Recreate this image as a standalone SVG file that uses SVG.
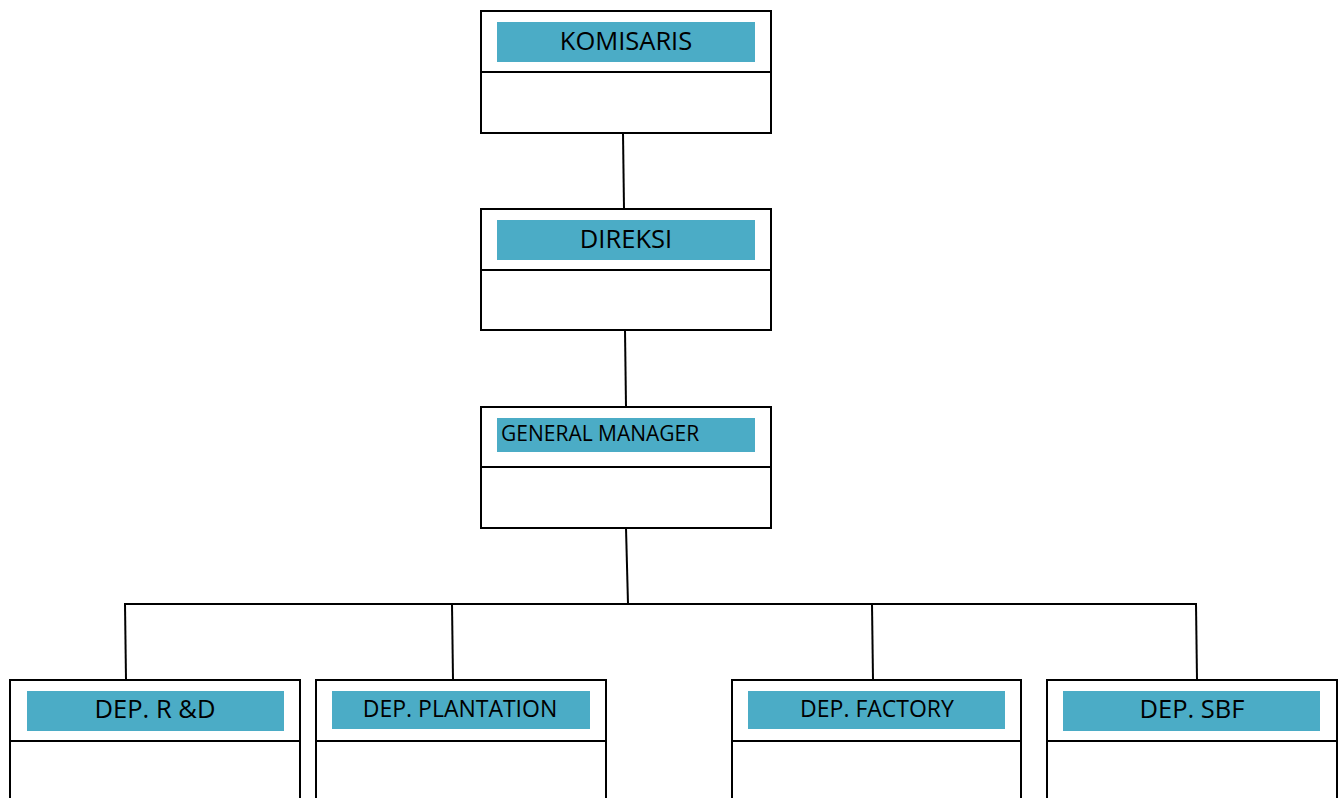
<svg xmlns="http://www.w3.org/2000/svg" width="1343" height="798" viewBox="0 0 1343 798">
<style>
.box{fill:#fff;stroke:#000;stroke-width:2}
.hdr{fill:#4BACC6}
.lbl{font-family:"Open Sans","Noto Sans","Liberation Sans",sans-serif;fill:#000;text-anchor:middle}
.conn line{stroke:#000;stroke-width:2}
</style>
<rect width="1343" height="798" fill="#fff"/>
<g class="conn" id="connectors">
<line x1="623" y1="133" x2="624" y2="209"/>
<line x1="625" y1="330" x2="626" y2="407"/>
<line x1="626" y1="528" x2="628" y2="604"/>
<line x1="124" y1="604" x2="1197" y2="604"/>
<line x1="125" y1="604" x2="126" y2="680"/>
<line x1="452" y1="604" x2="453" y2="680"/>
<line x1="872" y1="604" x2="873" y2="680"/>
<line x1="1196" y1="604" x2="1197" y2="680"/>
</g>
<g id="komisaris">
<rect class="box" x="481" y="11" width="290" height="122"/>
<line x1="481" y1="72" x2="771" y2="72" stroke="#000" stroke-width="2"/>
<rect class="hdr" x="497" y="22" width="258" height="40"/>
<text class="lbl" x="626" y="50" font-size="25.5">KOMISARIS</text>
</g>
<g id="direksi">
<rect class="box" x="481" y="209" width="290" height="121"/>
<line x1="481" y1="270" x2="771" y2="270" stroke="#000" stroke-width="2"/>
<rect class="hdr" x="497" y="220" width="258" height="40"/>
<text class="lbl" x="626" y="248" font-size="25.5">DIREKSI</text>
</g>
<g id="general-manager">
<rect class="box" x="481" y="407" width="290" height="121"/>
<line x1="481" y1="467" x2="771" y2="467" stroke="#000" stroke-width="2"/>
<rect class="hdr" x="497" y="418" width="258" height="34"/>
<text class="lbl" x="501" y="441" font-size="21" style="text-anchor:start">GENERAL MANAGER</text>
</g>
<g id="dep-rd">
<rect class="box" x="10" y="680" width="290" height="130"/>
<line x1="10" y1="741" x2="300" y2="741" stroke="#000" stroke-width="2"/>
<rect class="hdr" x="27" y="691" width="257" height="40"/>
<text class="lbl" x="155" y="718" font-size="25.5">DEP. R &amp;D</text>
</g>
<g id="dep-plantation">
<rect class="box" x="316" y="680" width="290" height="130"/>
<line x1="316" y1="741" x2="606" y2="741" stroke="#000" stroke-width="2"/>
<rect class="hdr" x="332" y="691" width="258" height="38"/>
<text class="lbl" x="460" y="717" font-size="23">DEP. PLANTATION</text>
</g>
<g id="dep-factory">
<rect class="box" x="732" y="680" width="289" height="130"/>
<line x1="732" y1="741" x2="1021" y2="741" stroke="#000" stroke-width="2"/>
<rect class="hdr" x="748" y="691" width="257" height="38"/>
<text class="lbl" x="877" y="717" font-size="23">DEP. FACTORY</text>
</g>
<g id="dep-sbf">
<rect class="box" x="1047" y="680" width="290" height="130"/>
<line x1="1047" y1="741" x2="1337" y2="741" stroke="#000" stroke-width="2"/>
<rect class="hdr" x="1063" y="691" width="257" height="40"/>
<text class="lbl" x="1192" y="718" font-size="25.5">DEP. SBF</text>
</g>
</svg>
